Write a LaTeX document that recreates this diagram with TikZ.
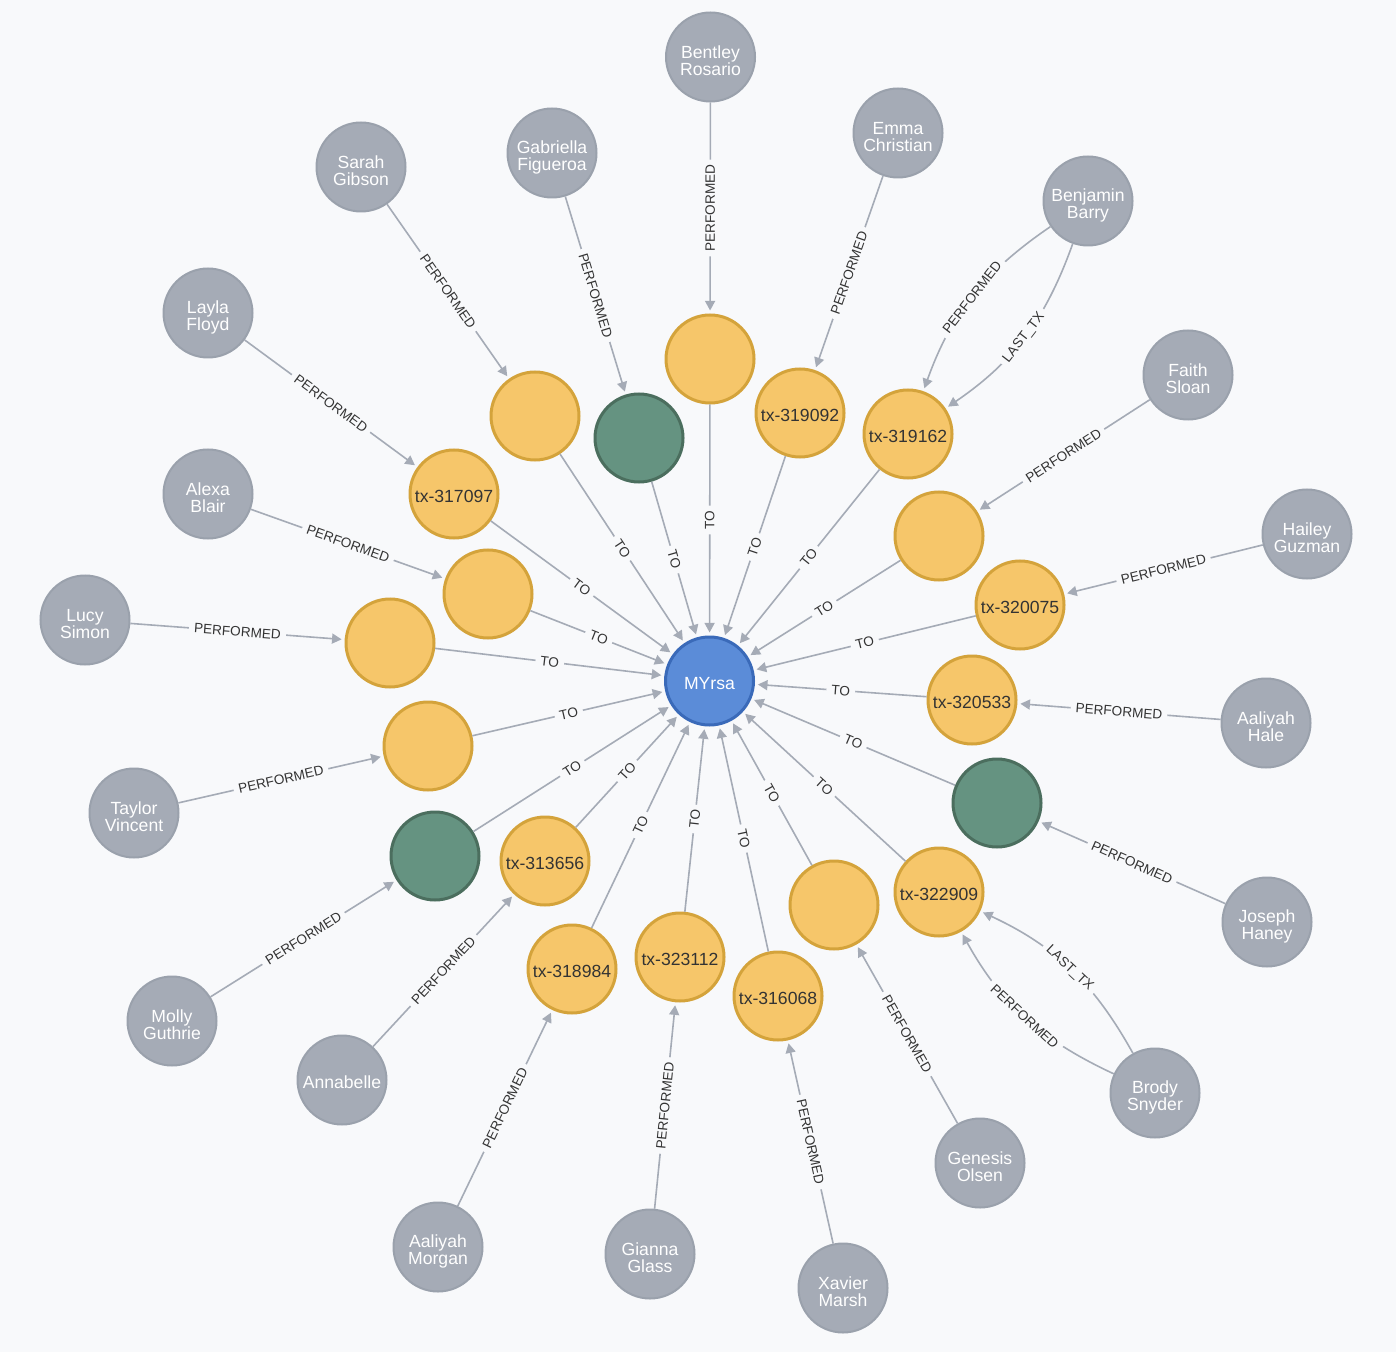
\documentclass[tikz,border=0pt]{standalone}
\usepackage{fontspec}
\setmainfont{Liberation Sans}
\usepackage{xcolor}
\usepackage{tikz}
\usetikzlibrary{arrows.meta}

\definecolor{canvas}{HTML}{F8F9FB}
\definecolor{personfill}{HTML}{A5ABB6}
\definecolor{personline}{HTML}{9AA1AC}
\definecolor{txfill}{HTML}{F6C66A}
\definecolor{txline}{HTML}{D4A33B}
\definecolor{acctfill}{HTML}{659381}
\definecolor{acctline}{HTML}{4B6E5E}
\definecolor{hubfill}{HTML}{5B8CD8}
\definecolor{hubline}{HTML}{3A6AB9}
\definecolor{edgegray}{HTML}{A5ABB6}
\definecolor{lbltext}{HTML}{333333}

\begin{document}
\begin{tikzpicture}[x=0.5pt,y=-0.5pt,
    person/.style={circle,draw=personline,line width=1pt,fill=personfill,
      minimum size=44.5pt,inner sep=0pt,text=white,align=center,
      text height=18.9pt,font=\fontsize{8.8}{8.5}\selectfont},
    txn/.style={circle,draw=txline,line width=1.5pt,fill=txfill,
      minimum size=44pt,inner sep=0pt,text=lbltext,text height=9pt,
      font=\fontsize{8.8}{8.5}\selectfont},
    acct/.style={txn,draw=acctline,fill=acctfill},
    hub/.style={txn,draw=hubline,fill=hubfill,text=white},
    rel/.style={draw=edgegray,line width=0.8pt,
      -{Triangle[length=4.8pt,width=5pt]},shorten >=1.5pt},
    lbl/.style={sloped,fill=canvas,text=lbltext,inner xsep=2.5pt,
      inner ysep=1pt,font=\fontsize{6.8}{6.8}\selectfont}]

    \fill[canvas] (0,0) rectangle (1396,1352);
    \useasboundingbox (0,0) rectangle (1396,1352);

    % centre
    \node[hub] (myrsa) at (709.5,681) {MYrsa};

    % transactions round the centre
    \foreach \nm/\x/\y/\txt in {ya/710/359/{}, tx319092/800/413/tx-319092,
        tx319162/908/434/tx-319162, yb/939/536/{}, tx320075/1020/605/tx-320075,
        tx320533/972/700/tx-320533, tx322909/939/892/tx-322909, yc/834/905/{},
        tx316068/778/996/tx-316068, tx323112/680/957/tx-323112,
        tx318984/572/969/tx-318984, tx313656/545/861/tx-313656,
        yd/428/746/{}, ye/390/643/{}, yf/488/594/{},
        tx317097/454/494/tx-317097, yg/535/416/{}}
      \node[txn] (\nm) at (\x,\y) {\txt};
    \foreach \nm/\x/\y in {ga/639/438, gb/997/803, gc/435/856}
      \node[acct] (\nm) at (\x,\y) {};

    % people
    \foreach \nm/\x/\y/\txt in {bentley/710.5/57/{Bentley\\Rosario},
        emma/898/133/{Emma\\Christian}, benjamin/1088/201/{Benjamin\\Barry},
        faith/1188/375/{Faith\\Sloan}, hailey/1307/534/{Hailey\\Guzman},
        aaliyahH/1266/723/{Aaliyah\\Hale}, joseph/1267/922/{Joseph\\Haney},
        brody/1155/1093/{Brody\\Snyder}, genesis/980/1163/{Genesis\\Olsen},
        xavier/843/1288/{Xavier\\Marsh}, gianna/650/1254/{Gianna\\Glass},
        aaliyahM/438/1247/{Aaliyah\\Morgan},
        molly/172/1021/{Molly\\Guthrie}, taylor/134/813/{Taylor\\Vincent},
        lucy/85/620/{Lucy\\Simon}, alexa/208/494/{Alexa\\Blair},
        layla/208/313/{Layla\\Floyd}, sarah/361/167/{Sarah\\Gibson},
        gabriella/552/153/{Gabriella\\Figueroa}}
      \node[person] (\nm) at (\x,\y) {\txt};
    \node[person,text height=8.6pt] (annabelle) at (342,1080) {Annabelle};

    % edges
    \foreach \t in {ya,tx319092,tx319162,yb,tx320075,tx320533,gb,tx322909,yc,
        tx316068,tx323112,tx318984,tx313656,gc,yd,ye,yf,tx317097,yg,ga}
      \draw[rel] (\t) -- node[lbl] {TO} (myrsa);

    \foreach \p/\t in {bentley/ya, emma/tx319092, faith/yb, hailey/tx320075,
        aaliyahH/tx320533, joseph/gb, genesis/yc, xavier/tx316068,
        gianna/tx323112, aaliyahM/tx318984, annabelle/tx313656, molly/gc,
        taylor/yd, lucy/ye, alexa/yf, layla/tx317097, sarah/yg, gabriella/ga}
      \draw[rel] (\p) -- node[lbl] {PERFORMED} (\t);

    \draw[rel] (benjamin) to[bend right=18] node[lbl] {PERFORMED} (tx319162);
    \draw[rel] (benjamin) to[bend left=18] node[lbl] {LAST\_TX} (tx319162);
    \draw[rel] (brody) to[bend left=18] node[lbl] {PERFORMED} (tx322909);
    \draw[rel] (brody) to[bend right=18] node[lbl] {LAST\_TX} (tx322909);
\end{tikzpicture}
\end{document}
